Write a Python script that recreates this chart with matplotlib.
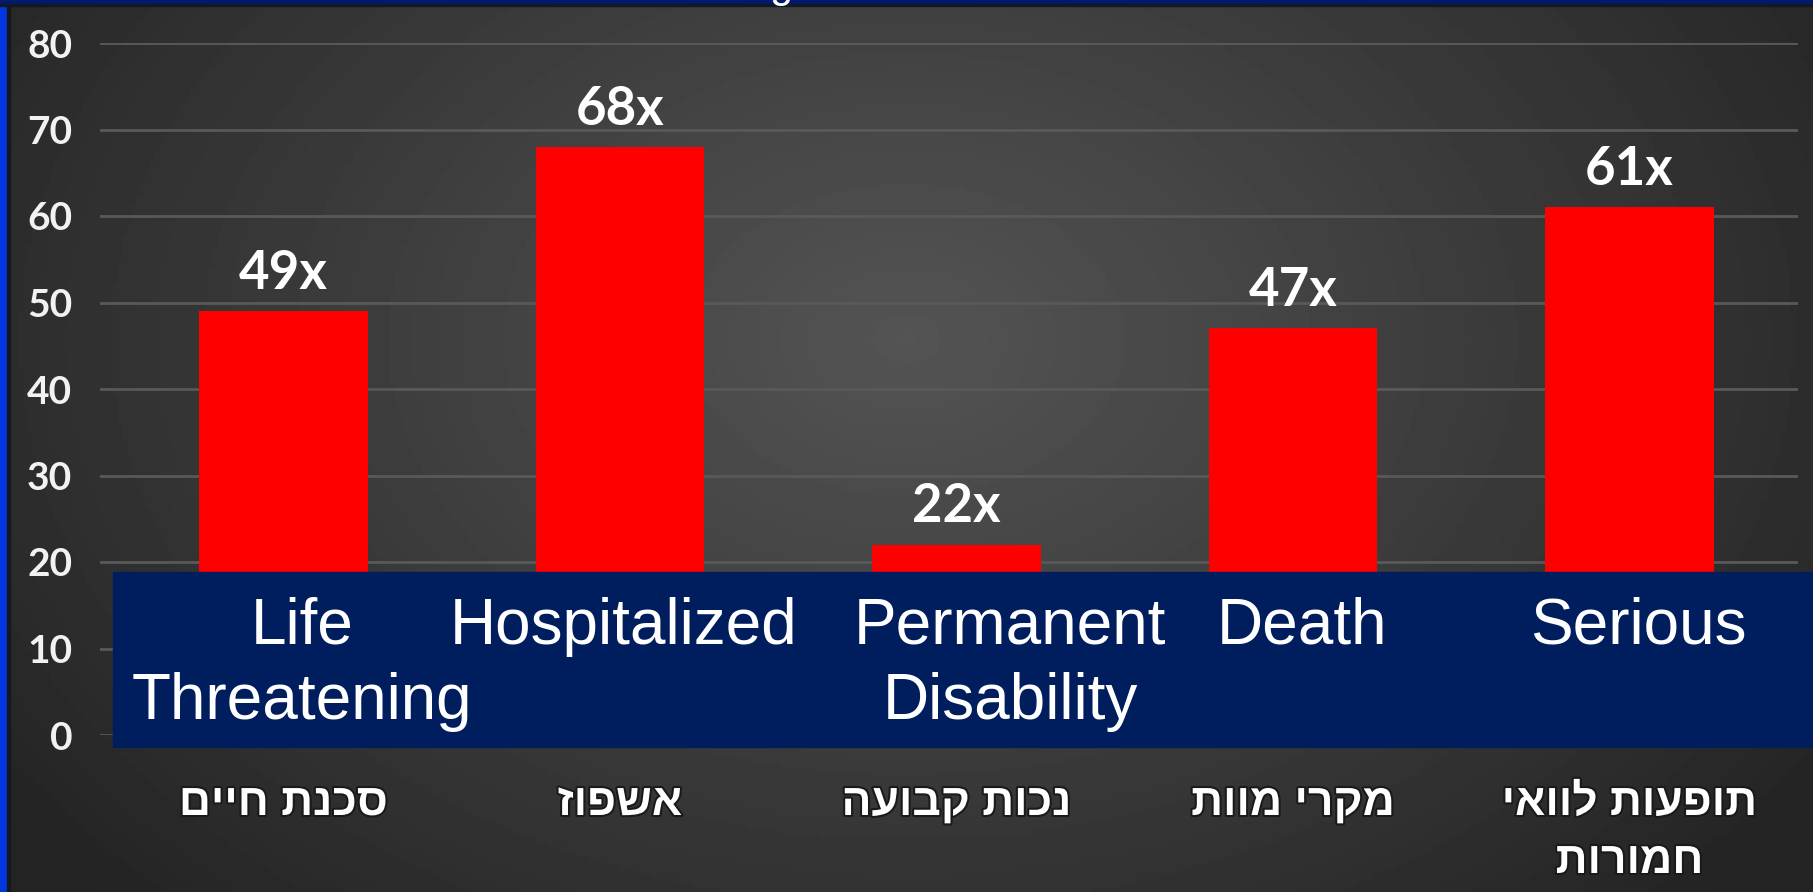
import numpy as np
import matplotlib
matplotlib.use('Agg')
import matplotlib.pyplot as plt
from matplotlib.patches import Rectangle
from matplotlib import patheffects as pe

# data
values = [49, 68, 22, 47, 61]
value_labels = ["49x", "68x", "22x", "47x", "61x"]
english = ["Life\nThreatening", "Hospitalized", "Permanent\nDisability", "Death", "Serious"]
hebrew = ["סכנת חיים", "אשפוז", "נכות קבועה", "מקרי מוות", "תופעות לוואי\nחמורות"]
yticks = [0, 10, 20, 30, 40, 50, 60, 70, 80]

W, H = 1813, 892
fig = plt.figure(figsize=(W / 100, H / 100), dpi=100)

# radial grey background
bg = fig.add_axes([0, 0, 1, 1], zorder=-5)
xx, yy = np.meshgrid(np.linspace(0, 1, 400), np.linspace(0, 1, 200))
r = np.sqrt(((xx - 0.50) / 0.62) ** 2 + ((yy - 0.38) / 0.9) ** 2)
shade = 0.33 - 0.19 * np.clip(r, 0, 1)
bg.imshow(shade, cmap='gray', vmin=0, vmax=1, aspect='auto', extent=[0, 1, 1, 0])
bg.set_axis_off()

# frame bits: blue strip left, navy band top
fig.add_artist(Rectangle((0, 0), 7 / W, 1, transform=fig.transFigure, color='#0236df', zorder=2))
fig.add_artist(Rectangle((7 / W, 0), 3 / W, 1, transform=fig.transFigure, color='#141820', zorder=2))
fig.add_artist(Rectangle((0, 1 - 4 / H), 1, 4 / H, transform=fig.transFigure, color='#021a6e', zorder=2))
fig.add_artist(Rectangle((0, 1 - 6 / H), 1, 2 / H, transform=fig.transFigure, color='#141824', zorder=2))
# title above the crop, only the tail of a "g" shows
fig.text(781 / W, 1 + 3 / H, "g", ha='center', va='baseline', fontsize=30,
         family='Liberation Sans', color='white', zorder=4)

ax = fig.add_axes([100 / W, (H - 735) / H, 1698 / W, 692 / H])
ax.set_facecolor('none')
x = np.arange(len(values))
ax.bar(x, values, width=0.5, color='#ff0000', zorder=3)
ax.set_xlim(-0.545, 4.501)
ax.set_ylim(0, 80)
ax.set_yticks(yticks)
ax.set_xticks([])
ax.grid(axis='y', color='#595959', linewidth=2, zorder=0)
for s in ax.spines.values():
    s.set_visible(False)
ax.tick_params(axis='y', length=0, pad=20, labelsize=28, labelcolor='#f2f2f2')
for t in ax.get_yticklabels():
    t.set_fontfamily('Lato')
    t.set_fontweight('bold')

for xi, v, lab in zip(x, values, value_labels):
    ax.annotate(lab, (xi, v), xytext=(0, 16), textcoords='offset points',
                ha='center', va='baseline', fontsize=38, fontweight='bold',
                family='Lato', color='white', zorder=4)

# navy box with english names
fig.add_artist(Rectangle((113 / W, (H - 747) / H), 1 - 113 / W, 175 / H,
                         transform=fig.transFigure, color='#001e5e', zorder=2))
eng_shift = [0.055, 0.01, 0.16, 0.028, 0.027]
for xi, lab, dx in zip(x, english, eng_shift):
    xf = fig.transFigure.inverted().transform(ax.transData.transform((xi + dx, 0)))[0]
    for k, line in enumerate(lab.split('\n')):
        fig.text(xf, (H - 644 - 75 * k) / H, line, ha='center', va='baseline',
                 fontsize=46, family='Liberation Sans', color='white', zorder=4)

# hebrew names (reversed for left-to-right drawing)
for xi, lab in zip(x, hebrew):
    xf = fig.transFigure.inverted().transform(ax.transData.transform((xi, 0)))[0]
    for k, line in enumerate(lab.split('\n')):
        fig.text(xf, (H - 815 - 58 * k) / H, line[::-1], ha='center', va='baseline',
                 fontsize=32, fontweight='bold', family=['Liberation Sans', 'DejaVu Sans'],
                 color='white', zorder=4,
                 path_effects=[pe.withStroke(linewidth=3, foreground='#1a1a1a')])

fig.savefig('out.png', dpi=100)
